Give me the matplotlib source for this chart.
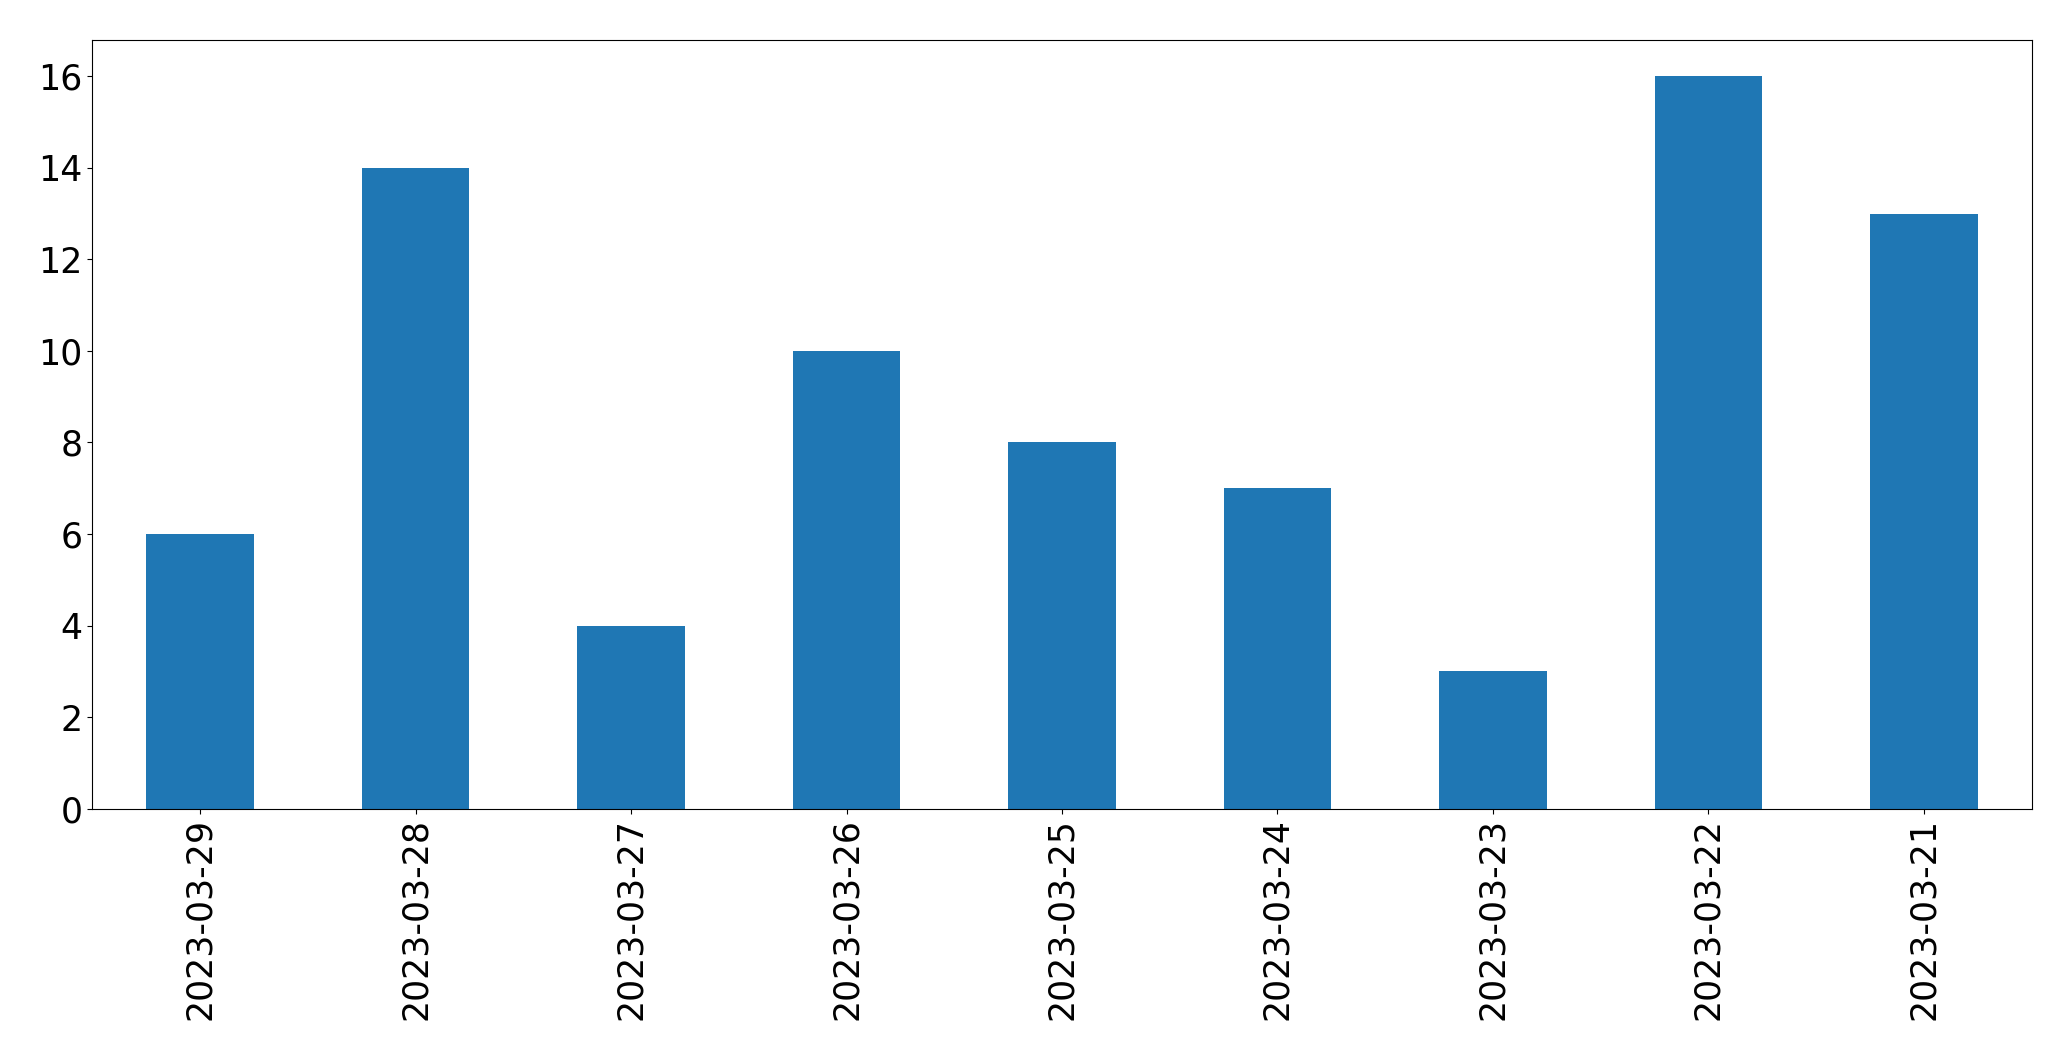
import matplotlib
matplotlib.use("Agg")
import matplotlib.pyplot as plt
import pandas as pd

dates = ["2023-03-29", "2023-03-28", "2023-03-27", "2023-03-26", "2023-03-25",
         "2023-03-24", "2023-03-23", "2023-03-22", "2023-03-21"]
counts = [6, 14, 4, 10, 8, 7, 3, 16, 13]

series = pd.Series(counts, index=dates)

fig, ax = plt.subplots(figsize=(20.71, 10.61), dpi=100)
series.plot(kind="bar", ax=ax, color="#1f77b4", fontsize=25)
ax.set_xlabel("")
fig.subplots_adjust(left=0.0446, right=0.981, top=0.9626, bottom=0.2379)
plt.savefig("out.png", dpi=100)
